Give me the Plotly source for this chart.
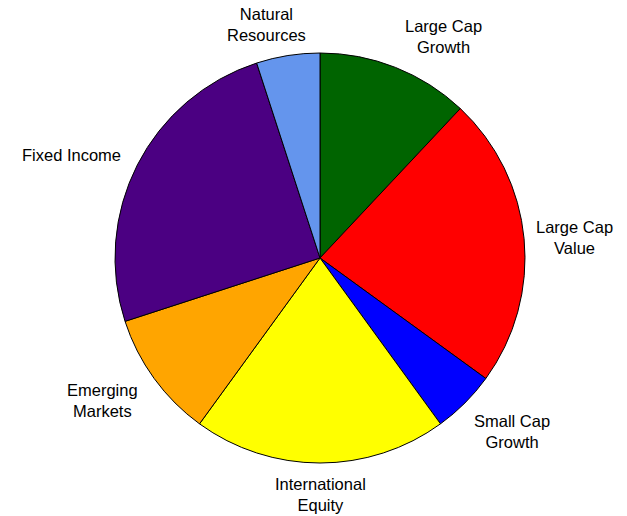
import math
import plotly.graph_objects as go

# Asset allocation (percent of portfolio), listed clockwise from 12 o'clock
categories = ["Large Cap<br>Growth", "Large Cap<br>Value", "Small Cap<br>Growth",
              "International<br>Equity", "Emerging<br>Markets", "Fixed Income",
              "Natural<br>Resources"]
values = [12, 23, 5, 20, 10, 25, 5]
colors = ["#006400", "#FF0000", "#0000FF", "#FFFF00", "#FFA500", "#4B0082", "#6495ED"]

W, H = 627, 516
cx, cy, r = 320, 258, 205  # pie centre and radius in pixels

fig = go.Figure(go.Pie(
    labels=categories,
    values=values,
    marker=dict(colors=colors, line=dict(color="black", width=1)),
    sort=False,
    direction="clockwise",
    rotation=0,
    textinfo="none",
    hoverinfo="label+percent",
    showlegend=False,
    domain=dict(x=[(cx - r) / W, (cx + r) / W], y=[(H - cy - r) / H, (H - cy + r) / H]),
))

# Small pixel nudges for label placement (x right, y up)
label_nudge = {
    "Natural<br>Resources": (-20, 0),
    "Fixed Income": (-5, -6),
    "Emerging<br>Markets": (-6, 5),
    "Large Cap<br>Growth": (4, 0),
}

# Outside labels placed at each slice's mid-angle, anchored by direction
total = sum(values)
cum = 0
annotations = []
label_dist = r + 10
for lab, v in zip(categories, values):
    mid = (cum + v / 2) / total * 2 * math.pi
    cum += v
    s, c = math.sin(mid), math.cos(mid)
    px = cx + label_dist * s
    py = cy - label_dist * c
    xa = "left" if s > 0.3 else ("right" if s < -0.3 else "center")
    ya = "bottom" if c > 0.3 else ("top" if c < -0.3 else "middle")
    dx, dy = label_nudge.get(lab, (0, 0))
    annotations.append(dict(
        x=px / W, y=1 - py / H, xref="paper", yref="paper",
        xshift=dx, yshift=dy,
        text=lab, showarrow=False, xanchor=xa, yanchor=ya, align="center",
        font=dict(family="Liberation Sans, Arial, sans-serif", size=16.5, color="black"),
    ))

fig.update_layout(
    width=W, height=H,
    margin=dict(l=0, r=0, t=0, b=0),
    paper_bgcolor="white",
    plot_bgcolor="white",
    annotations=annotations,
)

fig.write_html("out.html")
